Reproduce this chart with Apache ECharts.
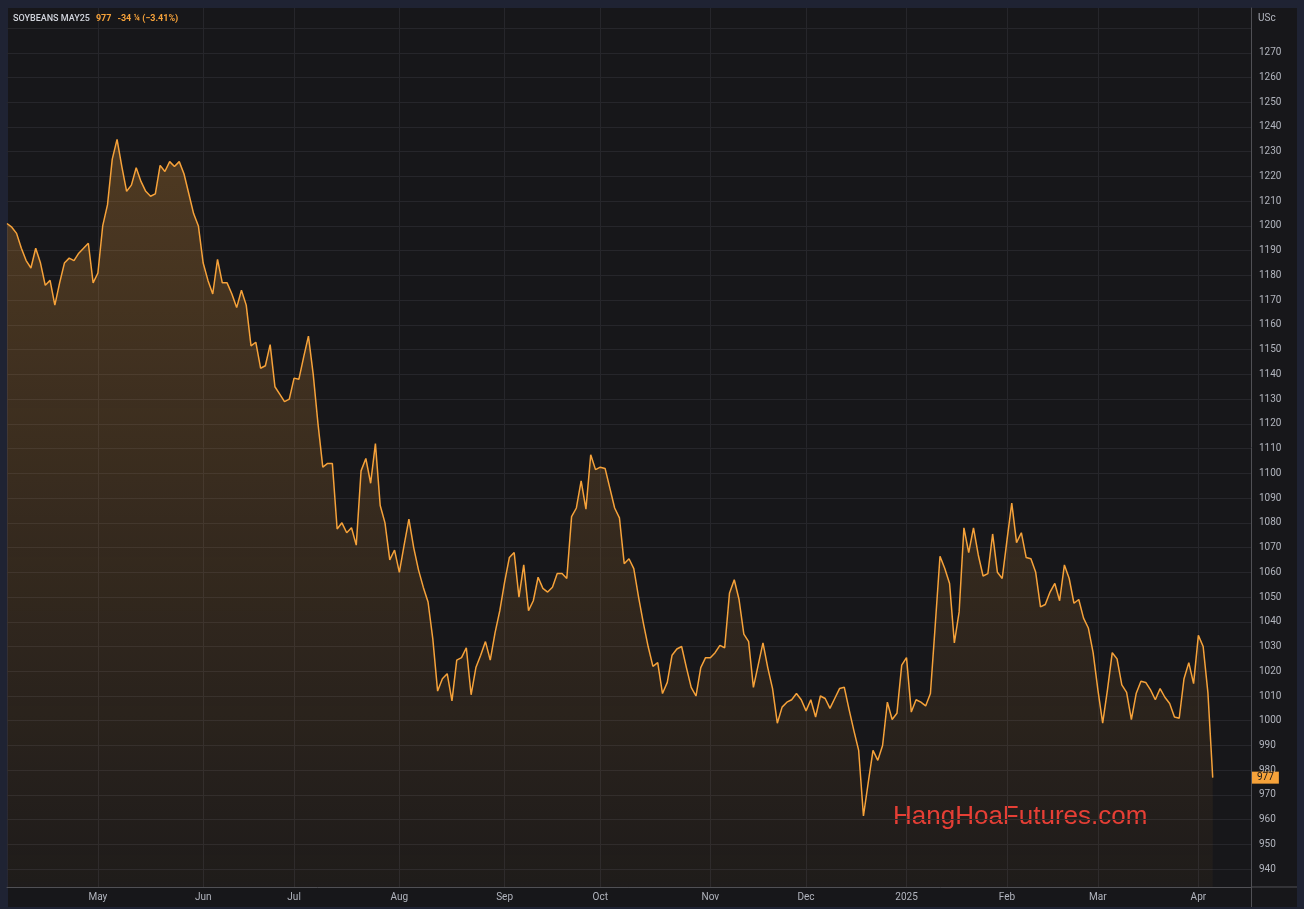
<!DOCTYPE html>
<html><head><meta charset="utf-8">
<script src="https://cdn.jsdelivr.net/npm/echarts@6.0.0/dist/echarts.min.js"></script>
<style>
html,body{margin:0;padding:0;background:#1f2333;width:1304px;height:909px;overflow:hidden}
#panel{position:absolute;left:8px;top:8px;width:1289px;height:899px;background:#17171a}
#chart{position:absolute;left:0;top:0;width:1304px;height:909px}
</style></head><body>
<div id="panel"></div><div id="chart"></div>
<script>
// Daily settlement values, 2024-04-04 .. 2025-04-04 (US cents / bushel)
const prices = [
  1201, 1199.5, 1197, 1191, 1186, 1183, 1191, 1185, 1176, 1178,
  1168, 1177, 1185, 1187, 1186, 1189, 1191, 1193, 1177, 1181,
  1200, 1208.5, 1227, 1235, 1224, 1214, 1216.5, 1223.5, 1218, 1214,
  1212, 1213, 1224.5, 1222, 1226, 1224, 1226, 1221, 1213, 1205,
  1200, 1185, 1178, 1172.5, 1186.5, 1177, 1177, 1172.5, 1167, 1174,
  1168, 1151.5, 1153, 1142.5, 1143.5, 1152, 1135, 1132, 1129, 1130,
  1138.5, 1138, 1147, 1155.5,
  1140, 1120, 1102.5, 1104, 1104, 1077.5, 1080, 1076, 1078, 1071,
  1101, 1106, 1096, 1112, 1087, 1080, 1065, 1069, 1060, 1071,
  1081.5, 1070, 1061, 1054, 1048, 1033, 1012, 1017, 1019, 1008, 1024.5,
  1025.5, 1029.5, 1010.5, 1021.5, 1026.5, 1032, 1024.5, 1035.5, 1044.5, 1056,
  1066, 1068, 1050, 1063, 1044.5, 1048.5, 1058, 1053.5, 1052, 1054,
  1059.5, 1059.5, 1057.5, 1082.5, 1086, 1097, 1085.5, 1107.5, 1101.5, 1102.5,
  1102, 1094, 1086, 1082, 1063.5, 1065.5, 1061.5, 1050,
  1039.5, 1030, 1022, 1023.5, 1011, 1015.5, 1026.5, 1029, 1030, 1021.5,
  1013.5, 1010, 1021.5, 1025.5, 1025.5, 1027.5, 1030.5, 1029.5, 1051.5, 1057,
  1049, 1035, 1032, 1013.5, 1022.5, 1031.5, 1021.5, 1013, 999, 1005.5,
  1007.5, 1008.5, 1011, 1008.5,
  1004, 1008.5, 1001.5, 1010, 1009, 1005, 1009, 1013, 1013.5, 1004.5,
  996, 988, 961.5, 975, 988, 984, 990, 1007.5, 1000.5, 1003,
  1022.5, 1025.5, 1003.5, 1008.5, 1007.5, 1006, 1011, 1038.5, 1066.5, 1061.5,
  1055.5, 1031.5, 1044,
  1078, 1068, 1078, 1067, 1058.5, 1059.5, 1075.5, 1060, 1057.5, 1073,
  1088, 1072, 1076, 1066, 1065.5, 1060, 1046, 1047, 1052, 1055.5,
  1048.5, 1063, 1057.5, 1047.5, 1049, 1041.5, 1037.5, 1027.5, 1012.5, 999,
  1012.5, 1027.5, 1025, 1014.5, 1011.5, 1000.5,
  1011, 1016, 1015.5, 1012.5, 1008.5, 1013, 1009.5, 1007, 1001.5, 1001,
  1017, 1023.5, 1015, 1034.5, 1030, 1011.25, 977
];
const startDate = '2024-04-04';
const categoryCount = 261;
const holidays = ['2024-05-27','2024-06-19','2024-07-04','2024-09-02','2024-11-28',
  '2024-12-25','2025-01-01','2025-01-20','2025-02-17','2025-04-18'];
const tickDates = ['2024-05-01','2024-06-03','2024-07-01','2024-08-01','2024-09-03','2024-10-01',
  '2024-11-01','2024-12-02','2025-01-02','2025-02-03','2025-03-03','2025-04-01'];
const tickLabels = ['May','Jun','Jul','Aug','Sep','Oct','Nov','Dec','2025','Feb','Mar','Apr'];
const yGridValues = [940,950,960,970,980,990,1000,1010,1020,1030,1040,1050,1060,1070,1080,1090,
  1100,1110,1120,1130,1140,1150,1160,1170,1180,1190,1200,1210,1220,1230,1240,1250,1260,1270,1280];
const yLabelValues = [940,950,960,970,980,990,1000,1010,1020,1030,1040,1050,1060,1070,1080,1090,
  1100,1110,1120,1130,1140,1150,1160,1170,1180,1190,1200,1210,1220,1230,1240,1250,1260,1270];
const yMin = 932.8, yMax = 1288.1;
const lastPrice = 977;

function tradingDays(start, count, skip) {
  const out = [];
  const d = new Date(start + 'T00:00:00Z');
  while (out.length < count) {
    const s = d.toISOString().slice(0, 10);
    const wd = d.getUTCDay();
    if (wd !== 0 && wd !== 6 && skip.indexOf(s) < 0) out.push(s);
    d.setUTCDate(d.getUTCDate() + 1);
  }
  return out;
}
const dates = tradingDays(startDate, categoryCount, holidays);
const labelMap = new Map(tickDates.map((d, i) => [d, tickLabels[i]]));
const isTick = (i, v) => labelMap.has(v);

const FONT = 'Roboto, "Noto Sans", sans-serif';
const ORANGE = '#f6a23a';
const AXIS_TXT = '#b2b5be';
const GRID = '#26262b';
const SEP = '#505055';

const chart = echarts.init(document.getElementById('chart'), null, {renderer: 'canvas'});
chart.setOption({
  animation: false,
  backgroundColor: 'transparent',
  textStyle: {fontFamily: FONT},
  title: {
    left: 13, top: 14, padding: 0,
    text: '{n|SOYBEANS MAY25}{p|977}{p|-34 ¼ (−3.41%)}',
    textStyle: {
      rich: {
        n: {color: '#d1d4dc', fontSize: 9, fontFamily: FONT, fontWeight: 500},
        p: {color: ORANGE, fontSize: 9, fontFamily: FONT, padding: [0, 0, 0, 6]}
      }
    }
  },
  grid: {left: 7, right: 53, top: 8, bottom: 22},
  xAxis: {
    type: 'category',
    data: dates,
    boundaryGap: false,
    axisLine: {show: true, lineStyle: {color: SEP, width: 1}},
    axisTick: {show: false},
    axisLabel: {
      interval: isTick,
      formatter: v => labelMap.get(v) || '',
      color: AXIS_TXT, fontSize: 10, margin: 5, fontFamily: FONT
    },
    splitLine: {show: true, interval: isTick, lineStyle: {color: GRID, width: 1}}
  },
  yAxis: {
    type: 'value',
    position: 'right',
    min: yMin, max: yMax,
    axisLine: {show: true, lineStyle: {color: SEP, width: 1}},
    axisTick: {show: false, customValues: yGridValues},
    axisLabel: {customValues: yLabelValues, formatter: v => String(Math.round(v)),
      color: AXIS_TXT, fontSize: 10, margin: 8, fontFamily: FONT},
    splitLine: {show: true, lineStyle: {color: GRID, width: 1}}
  },
  series: [{
    type: 'line',
    data: prices,
    symbol: 'none',
    showSymbol: false,
    lineStyle: {color: ORANGE, width: 1.5},
    itemStyle: {color: ORANGE},
    areaStyle: {
      origin: 'start',
      color: new echarts.graphic.LinearGradient(0, 0, 0, 1, [
        {offset: 0, color: 'rgba(246,162,58,0.36)'},
        {offset: 1, color: 'rgba(246,162,58,0.05)'}
      ])
    },
    markLine: {
      silent: true,
      symbol: 'none',
      data: [{yAxis: lastPrice}],
      lineStyle: {color: 'rgba(0,0,0,0)', width: 0},
      label: {
        show: true,
        position: 'end',
        distance: 1,
        formatter: String(lastPrice),
        color: '#17171a',
        backgroundColor: ORANGE,
        fontSize: 10,
        fontFamily: FONT,
        lineHeight: 11,
        padding: [1, 5, 0, 5]
      }
    }
  }],
  graphic: [
    {type: 'line', silent: true, shape: {x1: 1251.5, y1: 887, x2: 1297, y2: 887}, style: {stroke: SEP, lineWidth: 1}},
    {type: 'line', silent: true, shape: {x1: 1251.5, y1: 887, x2: 1251.5, y2: 907}, style: {stroke: SEP, lineWidth: 1}},
    {type: 'text', silent: true, x: 1258, y: 18, style: {text: 'USc', fill: AXIS_TXT, fontSize: 10, fontFamily: FONT, verticalAlign: 'middle'}},
    {type: 'text', silent: true, x: 893, y: 817, style: {text: 'HangHoaFutures.com', fill: '#e53935', fontSize: 26, fontFamily: '"Liberation Sans", Arial, sans-serif', verticalAlign: 'middle'}}
  ]
});
</script>
</body></html>
